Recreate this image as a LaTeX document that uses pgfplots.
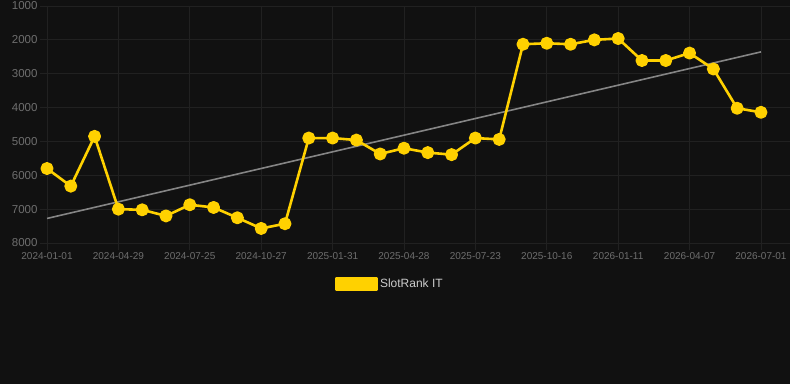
\documentclass[border=0pt]{standalone}
\usepackage{pgfplots}
\pgfplotsset{compat=1.18}
\usepackage{fontspec}
\setmainfont{Liberation Sans}
\definecolor{bg}{HTML}{111111}
\definecolor{gridc}{HTML}{212121}
\definecolor{tickc}{HTML}{6E6E6E}
\definecolor{gold}{HTML}{FFD100}
\definecolor{trendc}{HTML}{858585}
\definecolor{legc}{HTML}{CCCCCC}
\begin{document}
\begin{tikzpicture}[x=1pt,y=1pt]
\fill[bg] (0,0) rectangle (790,384);
\useasboundingbox (0,0) rectangle (790,384);
\begin{axis}[
  at={(47pt,141pt)}, anchor=south west,
  scale only axis, width=743pt, height=237pt,
  xmin=0, xmax=31.22, ymin=1000, ymax=8000,
  y dir=reverse,
  axis line style={draw=none},
  clip=false,
  grid=major,
  major grid style={gridc, line width=0.8pt},
  xtick={0,3,...,30},
  xticklabels={2024-01-01,2024-04-29,2024-07-25,2024-10-27,2025-01-31,2025-04-28,2025-07-23,2025-10-16,2026-01-11,2026-04-07,2026-07-01},
  ytick={1000,2000,...,8000},
  yticklabels={1000,2000,3000,4000,5000,6000,7000,8000},
  tick align=outside,
  major tick length=7pt,
  tick style={gridc, line width=0.8pt},
  xtick pos=bottom, ytick pos=left,
  x tick label style={font=\fontsize{10}{12}\selectfont, text=tickc, yshift=1pt},
  y tick label style={font=\fontsize{11.5}{13}\selectfont, text=tickc, xshift=1pt},
  legend style={at={(0.4617,-0.173)}, anchor=center, draw=none, fill=none,
    text=legc, font=\fontsize{12}{14}\selectfont, legend cell align=left,
    /tikz/every even column/.append style={column sep=0pt}},
  legend image code/.code={\fill[gold] (0pt,-6pt) rectangle (40pt,6pt);},
]
\addplot[trendc, line width=1.6pt, forget plot] coordinates {(0,7275) (30,2355)};
\addplot[gold, line width=2.6pt, line join=round, mark=*, mark size=5.2pt, mark options={solid, fill=gold, draw=none}] coordinates {
(0,5800) (1,6320) (2,4850) (3,7000) (4,7020) (5,7200) (6,6870) (7,6950) (8,7255) (9,7570)
(10,7430) (11,4900) (12,4900) (13,4960) (14,5370) (15,5200) (16,5330) (17,5390) (18,4900) (19,4940)
(20,2130) (21,2100) (22,2130) (23,2000) (24,1960) (25,2610) (26,2610) (27,2390) (28,2860) (29,4020)
(30,4140)};
\addlegendentry{SlotRank IT}
\end{axis}
\end{tikzpicture}
\end{document}
